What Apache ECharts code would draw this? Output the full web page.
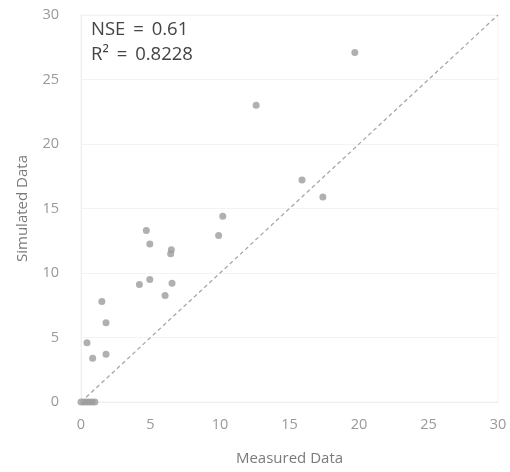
<!DOCTYPE html>
<html><head><meta charset="utf-8">
<script src="https://cdn.jsdelivr.net/npm/echarts@6/dist/echarts.min.js"></script>
<style>html,body{margin:0;padding:0;background:#fff}#c{width:510px;height:472px}</style>
</head><body><div id="c"></div>
<script>
const measured = [19.7, 12.6, 15.9, 17.4, 10.2, 4.7, 9.9, 4.95, 6.5, 6.45, 4.95, 4.2, 6.55, 6.05, 1.5, 1.8, 0.43, 0.84, 1.8, 0.0, 0.2, 0.4, 0.6, 0.8, 1.0];
const simulated = [27.1, 23.0, 17.2, 15.9, 14.4, 13.3, 12.9, 12.25, 11.8, 11.5, 9.5, 9.1, 9.2, 8.25, 7.8, 6.15, 4.6, 3.4, 3.7, 0.0, 0.0, 0.0, 0.0, 0.0, 0.0];
const axisTicks = [0, 5, 10, 15, 20, 25, 30];
const oneToOne = [[0, 0], [30, 30]];
const statsText = ['NSE \u2009=\u2009 0.61', 'R\u00B2 \u2009=\u2009 0.8228'];

const pts = measured.map((m, i) => [m, simulated[i]]);
const font = 'Open Sans';
const chart = echarts.init(document.getElementById('c'));
chart.setOption({
  animation: false,
  grid: { left: 81, right: 12, top: 15, bottom: 70, show: true, borderColor: '#f3f3f3', borderWidth: 1 },
  xAxis: {
    type: 'value', min: axisTicks[0], max: axisTicks[axisTicks.length - 1], interval: 5,
    name: 'Measured Data', nameLocation: 'middle', nameGap: 49,
    nameTextStyle: { color: '#7a7a7a', fontSize: 15, fontFamily: font },
    axisLine: { show: true, lineStyle: { color: '#eeeeee' } },
    axisTick: { show: false },
    axisLabel: { color: '#999', fontSize: 14.5, fontFamily: font, margin: 15 },
    splitLine: { show: false }
  },
  yAxis: {
    type: 'value', min: axisTicks[0], max: axisTicks[axisTicks.length - 1], interval: 5,
    name: 'Simulated Data', nameLocation: 'middle', nameGap: 51,
    nameTextStyle: { color: '#7a7a7a', fontSize: 15, fontFamily: font },
    axisLine: { show: true, lineStyle: { color: '#eeeeee' } },
    axisTick: { show: false },
    axisLabel: { color: '#999', fontSize: 14.5, fontFamily: font, margin: 22 },
    splitLine: { show: true, lineStyle: { color: '#f3f3f3' } }
  },
  series: [
    {
      type: 'line', data: oneToOne, symbol: 'none', silent: true,
      lineStyle: { color: '#a8a8a8', width: 1.3, type: [4, 3] }
    },
    {
      type: 'scatter', data: pts, symbolSize: 7,
      itemStyle: { color: '#9c9c9c' }
    }
  ],
  graphic: [
    { type: 'text', left: 91, top: 20, style: { text: statsText[0], fill: '#444', font: '18.5px "Open Sans"' } },
    { type: 'text', left: 91, top: 45, style: { text: statsText[1], fill: '#444', font: '18.5px "Open Sans"' } }
  ]
});
</script></body></html>
